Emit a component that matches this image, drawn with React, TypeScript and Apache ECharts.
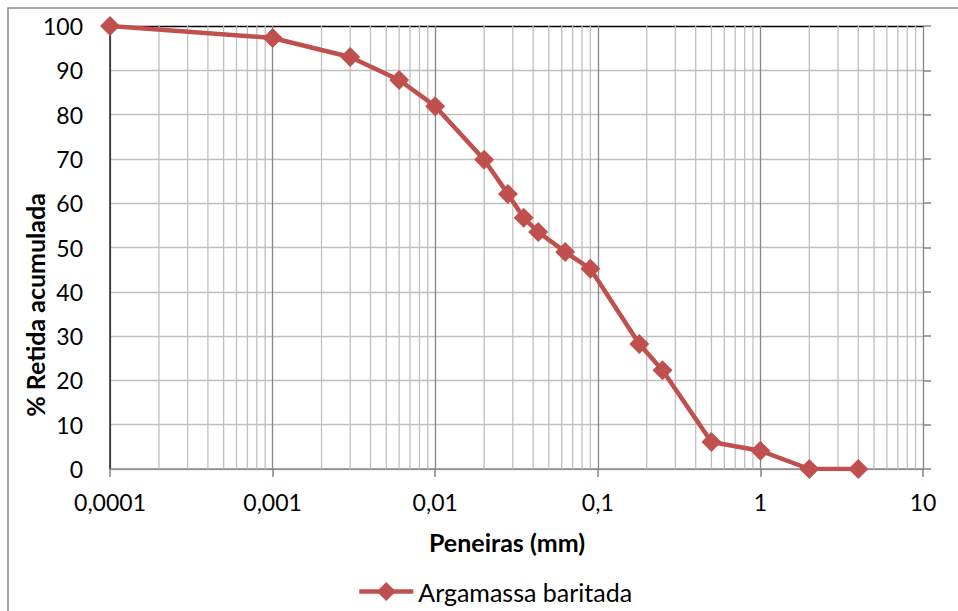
import React, { useEffect, useRef } from "react";
import * as echarts from "echarts";

const seriesName = "Argamassa baritada";
const sieveSizes = [0.0001, 0.001, 0.003, 0.006, 0.01, 0.02, 0.028, 0.035, 0.043, 0.063, 0.09, 0.18, 0.25, 0.5, 1, 2, 4];
const retained = [100, 97.3, 93.0, 87.8, 81.9, 69.8, 62.1, 56.7, 53.5, 49.0, 45.2, 28.2, 22.3, 6.1, 4.1, 0, 0];
const xTickLabels = ["0,0001", "0,001", "0,01", "0,1", "1", "10"];
const decades = [0.0001, 0.001, 0.01, 0.1, 1];
const minorSteps = [2, 3, 4, 5, 6, 7, 8, 9];
const xTitle = "Peneiras (mm)";
const yTitle = "% Retida acumulada";

const FONT = "Lato, 'Liberation Sans', sans-serif";

export default function App() {
  const ref = useRef<HTMLDivElement>(null);
  useEffect(() => {
    if (!ref.current) return;
    const chart = echarts.init(ref.current, null, { renderer: "svg" });
    const minorTicks = decades.flatMap((d) => minorSteps.map((k) => [k * d, 0]));
    const ySplitColors = ["#bfbfbf", "#bfbfbf", "#bfbfbf", "#bfbfbf", "#bfbfbf", "#bfbfbf", "#bfbfbf", "#bfbfbf", "#bfbfbf", "#bfbfbf", "#000000"];
    chart.setOption({
      animation: false,
      backgroundColor: "#ffffff",
      textStyle: { fontFamily: FONT },
      grid: { left: 110, right: 35, top: 26, bottom: 142, containLabel: false },
      legend: {
        data: [seriesName],
        left: 357,
        top: 579,
        padding: 0,
        itemWidth: 54,
        itemHeight: 24,
        lineStyle: { width: 4.5, color: "#C0504D" },
        textStyle: { fontSize: 25, color: "#000", fontFamily: FONT },
      },
      graphic: [
        {
          type: "rect",
          shape: { x: 8, y: 8, width: 1000, height: 700 },
          style: { fill: "none", stroke: "#898989", lineWidth: 1.5 },
          silent: true,
        },
        {
          type: "text",
          x: 35,
          y: 305,
          rotation: Math.PI / 2,
          style: {
            text: yTitle,
            fontSize: 25,
            fontWeight: "bold",
            fontFamily: FONT,
            fill: "#000",
            align: "center",
            verticalAlign: "middle",
          },
        },
        {
          type: "text",
          x: 507,
          y: 542,
          style: {
            text: xTitle,
            fontSize: 25,
            fontWeight: "bold",
            fontFamily: FONT,
            fill: "#000",
            align: "center",
            verticalAlign: "middle",
          },
        },
      ],
      xAxis: {
        type: "log",
        logBase: 10,
        min: 0.0001,
        max: 10,
        axisLine: { show: true, onZero: false, lineStyle: { color: "#868686", width: 1.5 } },
        axisTick: { show: true, length: 8, lineStyle: { color: "#868686", width: 1.5 } },
        axisLabel: {
          fontSize: 23,
          color: "#000",
          margin: 21,
          fontFamily: FONT,
          formatter: (_v: number, i: number) => xTickLabels[i] ?? "",
        },
        splitLine: { show: true, lineStyle: { color: "#868686", width: 1.3 } },
      },
      yAxis: [
        {
          type: "value",
          min: 0,
          max: 100,
          interval: 10,
          axisLine: { show: true, lineStyle: { color: "#262626", width: 1.5 } },
          axisTick: { show: false },
          axisLabel: { fontSize: 23, color: "#000", margin: 27, fontFamily: FONT },
          splitLine: { show: true, lineStyle: { color: ySplitColors, width: 1.3 } },
        },
        {
          type: "value",
          position: "right",
          min: 0,
          max: 100,
          interval: 10,
          axisLine: { show: false },
          axisTick: { show: true, length: 8, lineStyle: { color: "#868686", width: 1.5 } },
          axisLabel: { show: false },
          splitLine: { show: false },
        },
      ],
      series: [
        {
          type: "custom",
          name: "minor",
          silent: true,
          z: 1,
          encode: { x: 0, y: 1 },
          data: minorTicks,
          renderItem: (_p: any, api: any) => {
            const v = api.value(0);
            const a = api.coord([v, 0]);
            const b = api.coord([v, 100]);
            return {
              type: "line",
              shape: { x1: a[0], y1: a[1], x2: b[0], y2: b[1] },
              style: { stroke: "#bfbfbf", lineWidth: 1.3 },
            };
          },
        },
        {
          type: "line",
          name: seriesName,
          z: 5,
          data: sieveSizes.map((s, i) => [s, retained[i]]),
          symbol: "diamond",
          symbolSize: 20,
          showAllSymbol: true,
          lineStyle: { color: "#C0504D", width: 4.5 },
          itemStyle: { color: "#C0504D" },
        },
      ],
    });
    return () => chart.dispose();
  }, []);
  return (
    <div
      ref={ref}
      style={{ position: "absolute", left: 0, top: 0, width: 958, height: 611 }}
    />
  );
}
